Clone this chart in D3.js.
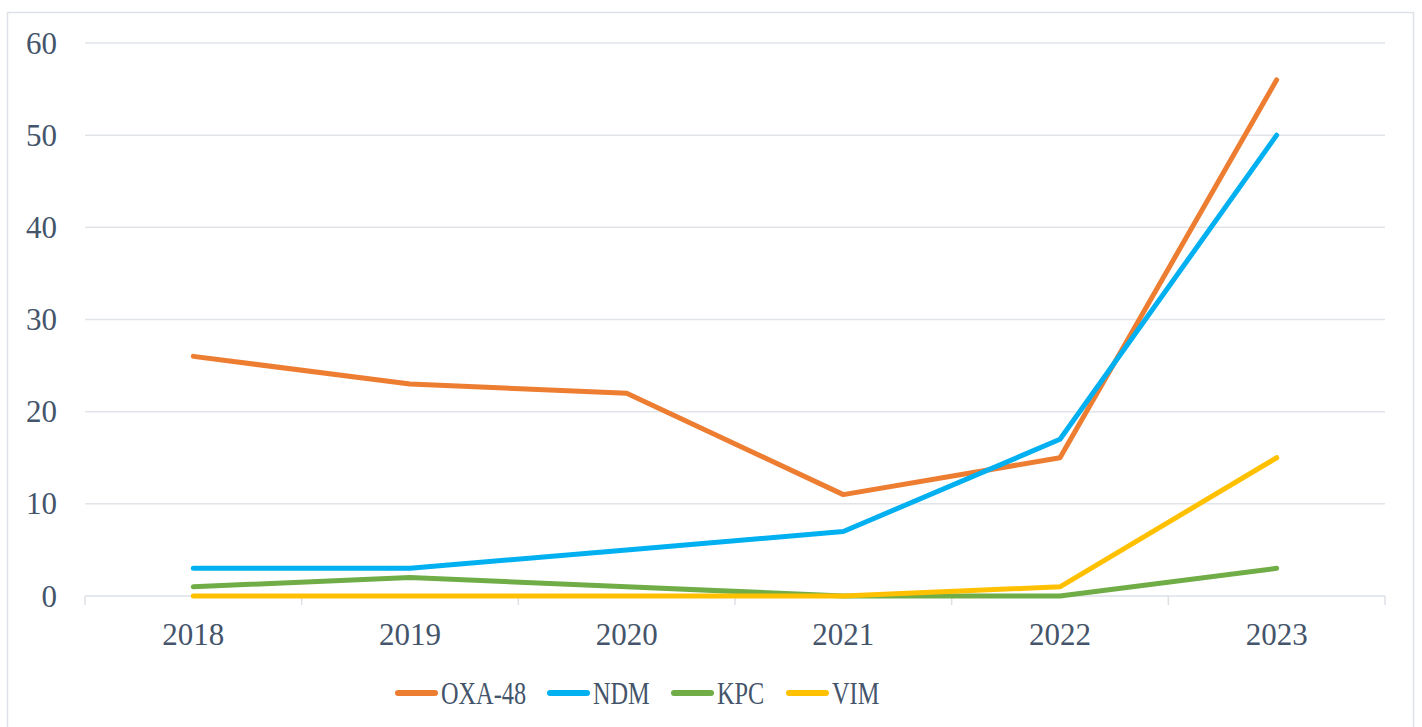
<!DOCTYPE html>
<html>
<head>
<meta charset="utf-8">
<script src="https://cdn.jsdelivr.net/npm/d3@7"></script>
<style>
  html, body { margin: 0; padding: 0; background: #fff; }
  svg { display: block; }
  text { font-family: "Liberation Serif", "DejaVu Serif", serif; fill: #44546A; }
</style>
</head>
<body>
<div id="chart"></div>
<script>
const years = ['2018', '2019', '2020', '2021', '2022', '2023']
const oxa48 = [26, 23, 22, 11, 15, 56]
const ndm = [3, 3, 5, 7, 17, 50]
const kpc = [1, 2, 1, 0, 0, 3]
const vim = [0, 0, 0, 0, 1, 15]
const yTicks = [0, 10, 20, 30, 40, 50, 60]

const seriesNames = ['OXA-48', 'NDM', 'KPC', 'VIM']
const seriesColors = ['#ED7D31', '#00B0F0', '#70AD47', '#FFC000']
const series = [oxa48, ndm, kpc, vim].map((values, i) => ({
  name: seriesNames[i],
  color: seriesColors[i],
  values,
}))

const width = 1422
const height = 727
const margin = { top: 43, right: 37, bottom: 131, left: 85 }
const plotW = width - margin.left - margin.right
const plotH = height - margin.top - margin.bottom

const svg = d3.select('#chart').append('svg').attr('width', width).attr('height', height)

// рамка вокруг диаграммы
svg.append('rect')
  .attr('x', 7.5).attr('y', 12.5)
  .attr('width', 1406).attr('height', 730)
  .attr('fill', 'none').attr('stroke', '#DEE2E8').attr('stroke-width', 1.5)

const g = svg.append('g').attr('transform', `translate(${margin.left},${margin.top})`)

const x = d3.scaleBand().domain(years).range([0, plotW])
const y = d3.scaleLinear().domain([0, 60]).range([plotH, 0])

// сетка
g.append('g')
  .selectAll('line')
  .data(yTicks.filter(d => d > 0))
  .join('line')
  .attr('x1', 0).attr('x2', plotW)
  .attr('y1', d => y(d)).attr('y2', d => y(d))
  .attr('stroke', '#E1E5EA').attr('stroke-width', 1.5)

// ось Y (только подписи)
g.append('g')
  .selectAll('text')
  .data(yTicks)
  .join('text')
  .attr('x', -28)
  .attr('y', d => y(d))
  .attr('dy', '0.34em')
  .attr('text-anchor', 'end')
  .attr('font-size', 31)
  .text(d => d)

// ось X
const xAxis = g.append('g').attr('transform', `translate(0,${plotH})`)
xAxis.append('line')
  .attr('x1', 0).attr('x2', plotW)
  .attr('stroke', '#DCE0E6').attr('stroke-width', 1.5)
xAxis.selectAll('.tick')
  .data(d3.range(years.length + 1))
  .join('line')
  .attr('x1', i => i * x.step()).attr('x2', i => i * x.step())
  .attr('y1', 0).attr('y2', 9)
  .attr('stroke', '#DCE0E6').attr('stroke-width', 1.5)
xAxis.selectAll('text')
  .data(years)
  .join('text')
  .attr('x', d => x(d) + x.bandwidth() / 2)
  .attr('y', 49)
  .attr('text-anchor', 'middle')
  .attr('font-size', 31)
  .text(d => d)

// линии серий
const line = d3.line()
  .x((d, i) => x(years[i]) + x.bandwidth() / 2)
  .y(d => y(d))

g.append('g')
  .selectAll('path')
  .data(series)
  .join('path')
  .attr('d', d => line(d.values))
  .attr('fill', 'none')
  .attr('stroke', d => d.color)
  .attr('stroke-width', 5)
  .attr('stroke-linecap', 'round')
  .attr('stroke-linejoin', 'round')

// легенда (текст в оригинале сжат по горизонтали)
const legendX = [395, 547, 671, 786]
const legend = svg.append('g').attr('transform', 'translate(0,693)')
const item = legend.selectAll('g')
  .data(series)
  .join('g')
  .attr('transform', (d, i) => `translate(${legendX[i]},0)`)
item.append('line')
  .attr('x1', 3).attr('x2', 40)
  .attr('stroke', d => d.color)
  .attr('stroke-width', 6)
  .attr('stroke-linecap', 'round')
item.append('text')
  .attr('transform', 'translate(46,0) scale(0.76,1)')
  .attr('dy', '0.34em')
  .attr('font-size', 32)
  .text(d => d.name)
</script>
</body>
</html>
